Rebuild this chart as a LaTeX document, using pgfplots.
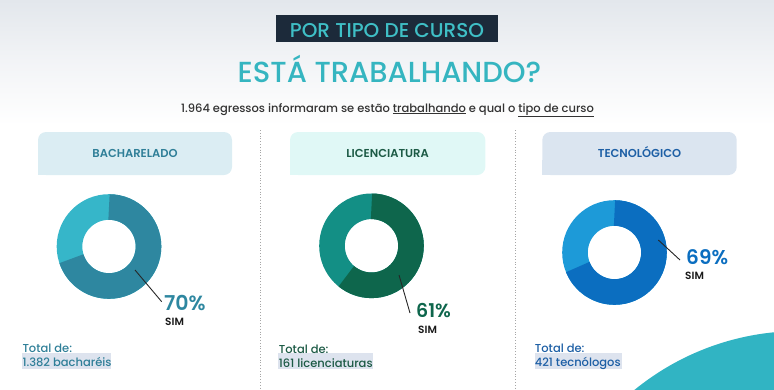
\documentclass[border=0pt]{standalone}
\usepackage{fontspec}
\setmainfont{Poppins}[BoldFont={* SemiBold}]
\newfontfamily\pmed{Poppins}[UprightFont={* Medium}]
\usepackage{pgfplots}
\pgfplotsset{compat=1.18}
\usepackage{pgfplotstable}

\definecolor{topgrey}{HTML}{E3E7EC}
\definecolor{titlebox}{HTML}{1C2A3A}
\definecolor{titleteal}{HTML}{3FBFC6}
\definecolor{headteal}{HTML}{35B5C0}
\definecolor{subgrey}{HTML}{333333}
\definecolor{boxA}{HTML}{DBEDF3}
\definecolor{boxB}{HTML}{E0F8F6}
\definecolor{boxC}{HTML}{DBE5F0}
\definecolor{txtA}{HTML}{2F7F98}
\definecolor{txtB}{HTML}{1C5A45}
\definecolor{txtC}{HTML}{1D5FA5}
\definecolor{simA}{HTML}{2E87A0}
\definecolor{noA}{HTML}{36B6C9}
\definecolor{simB}{HTML}{0E664C}
\definecolor{noB}{HTML}{138F85}
\definecolor{simC}{HTML}{0B6EC0}
\definecolor{noC}{HTML}{1D9AD8}
\definecolor{hilite}{HTML}{DDE3EE}
\definecolor{bigteal}{HTML}{31B4C3}

% donut data: centre (px), share "SIM" in percent
\pgfplotstableread{
cx    cy    sim
109   246.5 70
371.5 245.8 61
614.5 252.5 69
}\donuts
\pgfplotstablegetelem{0}{sim}\of\donuts \let\simA\pgfplotsretval
\pgfplotstablegetelem{1}{sim}\of\donuts \let\simB\pgfplotsretval
\pgfplotstablegetelem{2}{sim}\of\donuts \let\simC\pgfplotsretval

% #1 cx, #2 cy, #3 pct, #4 colour sim, #5 colour other
\newcommand\donut[5]{%
  \draw[line width=25.6pt,#5] (axis cs:#1,#2) circle[radius=39.5pt];
  \draw[line width=25.6pt,#4] (axis cs:#1,#2) ++(90:39.5pt)
     arc[start angle=90,end angle={90-3.6*#3},radius=39.5pt];
}

\begin{document}
\begin{tikzpicture}
\begin{axis}[
  width=774pt, height=389pt, scale only axis,
  xmin=0, xmax=774, ymin=0, ymax=389, y dir=reverse,
  hide axis, clip=true,
]
\addplot[draw=none, mark=none] table[x=cx,y=cy] {\donuts};
\coordinate (SW) at (axis cs:0,389);
\coordinate (NE) at (axis cs:774,0);
% background
\shade[top color=topgrey, bottom color=white, middle color=topgrey!45] (axis cs:0,0) rectangle (axis cs:774,125);
\begin{scope}
\clip (axis cs:0,0) rectangle (axis cs:774,389);
\fill[bigteal] (axis cs:800,593) circle[radius=262pt];
\end{scope}
% titles
\fill[titlebox] (axis cs:276,15) rectangle (axis cs:497.5,41.7);
\node[anchor=base, text=titleteal, inner sep=0pt, font=\pmed\fontsize{20}{20}\selectfont] at (axis cs:387,37.6) {POR TIPO DE CURSO};
\node[anchor=base, text=headteal, inner sep=0pt, font=\pmed\fontsize{29}{29}\selectfont] at (axis cs:389.5,82) {ESTÁ TRABALHANDO?};
\node[anchor=base, text=subgrey, inner sep=0pt, font=\pmed\fontsize{11.5}{11.5}\selectfont] at (axis cs:387.5,112) {1.964 egressos informaram se estão \underline{trabalhando} e qual o \underline{tipo de curso}};
% separators
\draw[gray!70, dotted, line width=0.8pt] (axis cs:260,130) -- (axis cs:260,389);
\draw[gray!70, dotted, line width=0.8pt] (axis cs:515,130) -- (axis cs:515,389);
% header boxes
\fill[boxA, rounded corners=8pt] (axis cs:38,132) rectangle (axis cs:232,175);
\fill[boxA] (axis cs:38,160) rectangle (axis cs:60,175);
\fill[boxB, rounded corners=8pt] (axis cs:290,132) rectangle (axis cs:485.3,175);
\fill[boxB] (axis cs:290,160) rectangle (axis cs:312,175);
\fill[boxC, rounded corners=8pt] (axis cs:542.3,132) rectangle (axis cs:736.7,175);
\fill[boxC] (axis cs:542.3,160) rectangle (axis cs:564,175);
\node[anchor=base, inner sep=0pt, text=txtA, font=\bfseries\fontsize{11.5}{11.5}\selectfont] at (axis cs:135,157.5) {BACHARELADO};
\node[anchor=base, inner sep=0pt, text=txtB, font=\bfseries\fontsize{11.5}{11.5}\selectfont] at (axis cs:387.6,157.5) {LICENCIATURA};
\node[anchor=base, inner sep=0pt, text=txtC, font=\bfseries\fontsize{11.5}{11.5}\selectfont] at (axis cs:639.5,157.5) {TECNOLÓGICO};
% donuts
\donut{109}{246.5}{\simA}{simA}{noA}
\donut{371.5}{245.8}{\simB}{simB}{noB}
\donut{614.5}{252.5}{\simC}{simC}{noC}
% leader lines
\draw[black!85, line width=0.9pt] (axis cs:135,270) -- (axis cs:161.7,301.7);
\draw[black!85, line width=0.9pt] (axis cs:399,275) -- (axis cs:410,313);
\draw[black!85, line width=0.9pt] (axis cs:658.3,240) -- (axis cs:680,260);
% labels
\node[anchor=base west, inner sep=0pt, text=simA, font=\bfseries\fontsize{20.5}{20}\selectfont] at (axis cs:164,310) {\simA\%};
\node[anchor=base west, inner sep=0pt, text=black!90, font=\bfseries\fontsize{10.5}{10.5}\selectfont] at (axis cs:165,325.5) {SIM};
\node[anchor=base west, inner sep=0pt, text=simB, font=\bfseries\fontsize{19}{19}\selectfont] at (axis cs:416,317.5) {\simB\%};
\node[anchor=base west, inner sep=0pt, text=black!90, font=\bfseries\fontsize{10.5}{10.5}\selectfont] at (axis cs:418,333) {SIM};
\node[anchor=base west, inner sep=0pt, text=simC, font=\bfseries\fontsize{20}{20}\selectfont] at (axis cs:686,264) {\simC\%};
\node[anchor=base west, inner sep=0pt, text=black!90, font=\bfseries\fontsize{10.5}{10.5}\selectfont] at (axis cs:685,279.5) {SIM};
% totals
\fill[hilite] (axis cs:22,353) rectangle (axis cs:110.7,369);
\fill[hilite] (axis cs:278,352.7) rectangle (axis cs:373,369.3);
\fill[hilite] (axis cs:534.7,352.7) rectangle (axis cs:622.3,369.3);
\node[anchor=base west, inner sep=0pt, text=txtA, font=\pmed\fontsize{11.5}{11.5}\selectfont] at (axis cs:22.3,352.7) {Total de:};
\node[anchor=base west, inner sep=0pt, text=txtA, font=\pmed\fontsize{11.5}{11.5}\selectfont] at (axis cs:22.3,366.7) {1.382 bacharéis};
\node[anchor=base west, inner sep=0pt, text=txtB, font=\pmed\fontsize{11.5}{11.5}\selectfont] at (axis cs:278.7,353.3) {Total de:};
\node[anchor=base west, inner sep=0pt, text=txtB, font=\pmed\fontsize{11.5}{11.5}\selectfont] at (axis cs:278.7,367.3) {161 licenciaturas};
\node[anchor=base west, inner sep=0pt, text=txtC, font=\pmed\fontsize{11.5}{11.5}\selectfont] at (axis cs:534.7,352.7) {Total de:};
\node[anchor=base west, inner sep=0pt, text=txtC, font=\pmed\fontsize{11.5}{11.5}\selectfont] at (axis cs:534.7,366.2) {421 tecnólogos};
\end{axis}
\pgfresetboundingbox
\useasboundingbox (SW) rectangle (NE);
\end{tikzpicture}
\end{document}
